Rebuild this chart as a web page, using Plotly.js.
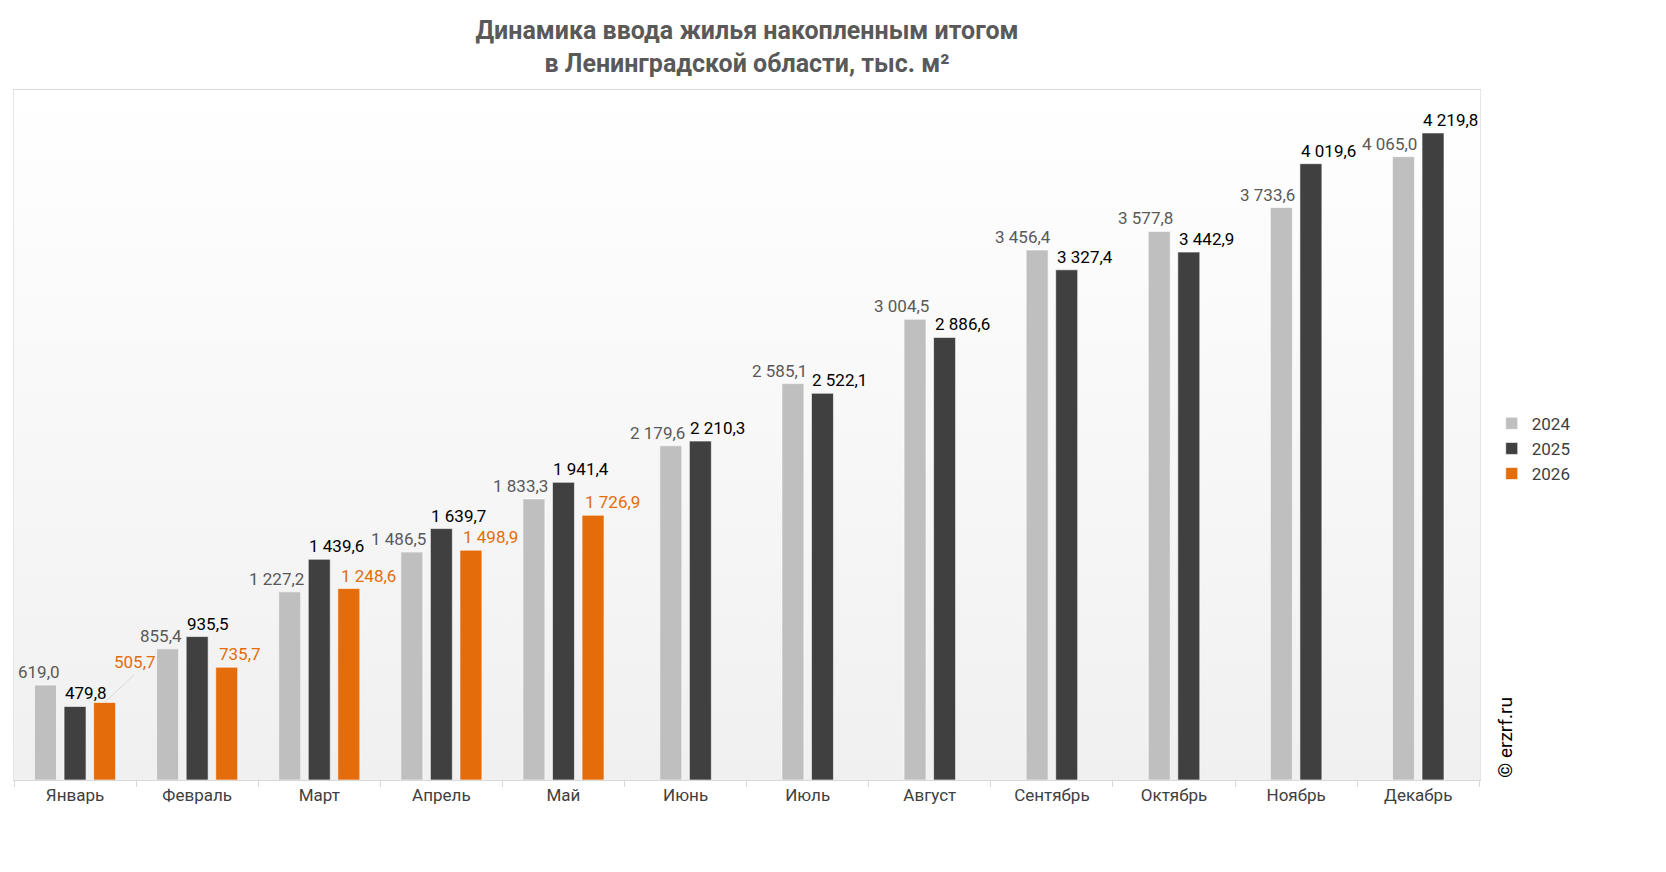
<!DOCTYPE html>
<html><head><meta charset="utf-8">
<script src="https://cdn.plot.ly/plotly-3.0.1.min.js"></script>
<style>
body{margin:0;background:#fff}
#bg{position:absolute;left:14px;top:90px;width:1466px;height:690px;background:linear-gradient(#ffffff,#f0f0f0)}
#chart{position:absolute;left:0;top:0;width:1666px;height:872px}
</style></head><body>
<div id="bg"></div><div id="chart"></div>
<script>
// data
var months = ['Январь','Февраль','Март','Апрель','Май','Июнь','Июль','Август','Сентябрь','Октябрь','Ноябрь','Декабрь']
var v2024 = [619.0,855.4,1227.2,1486.5,1833.3,2179.6,2585.1,3004.5,3456.4,3577.8,3733.6,4065.0]
var v2025 = [479.8,935.5,1439.6,1639.7,1941.4,2210.3,2522.1,2886.6,3327.4,3442.9,4019.6,4219.8]
var v2026 = [505.7,735.7,1248.6,1498.9,1726.9,null,null,null,null,null,null,null]

var W = 0.18, STEP = 0.242, CATPX = 122

function fmt(v){
    var s = v.toFixed(1).replace('.',',')
    var p = s.split(',')
    p[0] = p[0].replace(/\B(?=(\d{3})+(?!\d))/g,'\u00a0')
    return p[0]+','+p[1]
}

// bar centres per month, per series
function centres(i){
    if (v2026[i] != null) return [-STEP,0,STEP]
    return [-STEP/2,STEP/2,null]
}

var series = [
    {name:'2024', y:v2024, color:'#bfbfbf', text:'#595959', idx:0, anchor:'right', dx:16},
    {name:'2025', y:v2025, color:'#404040', text:'#000000', idx:1, anchor:'left', dx:-12},
    {name:'2026', y:v2026, color:'#e46c0a', text:'#e46c0a', idx:2, anchor:'left', dx:-10},
]

var data = []
var annotations = []
series.forEach(function(s){
    var off = months.map(function(m,i){var c=centres(i)[s.idx]; return c==null?0:c-W/2})
    data.push({
        type:'bar', name:s.name, x:months, y:s.y, offset:off, width:W,
        marker:{color:s.color, line:{color:'rgba(255,255,255,0.6)',width:1}},
        hoverinfo:'x+y'
    })
    s.y.forEach(function(v,i){
        if (v == null) return
        var c = centres(i)[s.idx]
        var a = {
            x:months[i], y:v, xref:'x', yref:'y', text:fmt(v), showarrow:false,
            xanchor:s.anchor, yanchor:'bottom', xshift:c*CATPX+s.dx, yshift:1,
            font:{family:'Roboto',size:17,color:s.text}
        }
        // first 2026 label sits above, with a leader line
        if (s.idx == 2 && i == 0) {
            a.showarrow = true; a.arrowhead = 0; a.arrowwidth = 1; a.arrowcolor = '#d9d9d9'
            a.xshift = c*CATPX; a.ax = 30; a.ay = -28; a.xanchor = 'center'; a.yshift = 0
        }
        annotations.push(a)
    })
})

annotations.push({
    xref:'paper', yref:'paper', x:1.008, y:0, xanchor:'left', yanchor:'bottom',
    text:'© erzrf.ru', textangle:-90, showarrow:false,
    font:{family:'Roboto',size:19,color:'#000'}
})

var layout = {
    width:1666, height:872,
    margin:{l:14,r:186,t:90,b:92},
    paper_bgcolor:'rgba(0,0,0,0)', plot_bgcolor:'rgba(0,0,0,0)',
    barmode:'overlay',
    title:{text:'<b>Динамика ввода жилья накопленным итогом<br>в Ленинградской области, тыс. м²</b>',
        x:0.5, xanchor:'center', y:0.955, yanchor:'top', xref:'paper',
        font:{family:'Roboto',size:25,color:'#595959'}},
    xaxis:{type:'category', ticks:'outside', tickson:'boundaries', ticklen:6, tickcolor:'#d9d9d9',
        showline:true, linecolor:'#d9d9d9', showgrid:false,
        tickfont:{family:'Roboto',size:17,color:'#404040'}, fixedrange:true, mirror:true},
    yaxis:{range:[0,4500], visible:true, showticklabels:false, showgrid:false, zeroline:false,
        showline:true, linecolor:'#e6e6e6', mirror:true, fixedrange:true},
    legend:{x:1.008, y:0.48, xanchor:'left', yanchor:'middle', bgcolor:'rgba(0,0,0,0)',
        font:{family:'Roboto',size:17,color:'#404040'}, itemwidth:30, tracegroupgap:8},
    annotations:annotations,
    showlegend:true
}

Plotly.newPlot('chart',data,layout,{displayModeBar:false})
</script></body></html>
